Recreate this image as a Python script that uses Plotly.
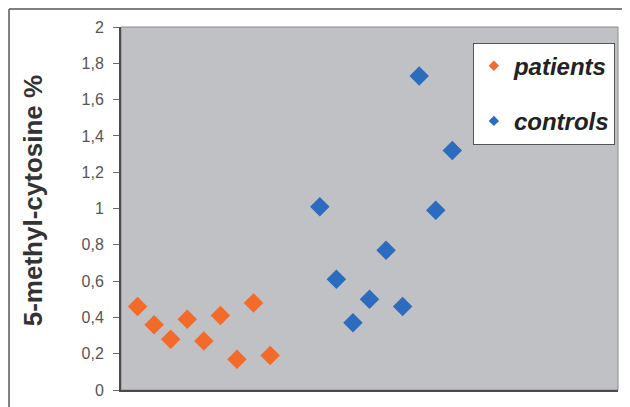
import plotly.graph_objects as go

patients_x = [1, 2, 3, 4, 5, 6, 7, 8, 9]
patients_y = [0.46, 0.36, 0.28, 0.39, 0.27, 0.41, 0.17, 0.48, 0.19]
controls_x = [12, 13, 14, 15, 16, 17, 18, 19, 20]
controls_y = [1.01, 0.61, 0.37, 0.50, 0.77, 0.46, 1.73, 0.99, 1.32]
y_ticks = [0, 0.2, 0.4, 0.6, 0.8, 1.0, 1.2, 1.4, 1.6, 1.8, 2.0]
y_tick_labels = ["0", "0,2", "0,4", "0,6", "0,8", "1", "1,2", "1,4", "1,6", "1,8", "2"]

FONT = "Liberation Sans, Arial, sans-serif"
ORANGE = "#F26B2A"
BLUE = "#2C6CBE"

fig = go.Figure()
fig.add_trace(go.Scatter(
    x=patients_x, y=patients_y, mode="markers", name="patients",
    showlegend=False,
    marker=dict(symbol="diamond", size=15, color=ORANGE, line=dict(width=0)),
))
fig.add_trace(go.Scatter(
    x=controls_x, y=controls_y, mode="markers", name="controls",
    showlegend=False,
    marker=dict(symbol="diamond", size=15, color=BLUE, line=dict(width=0)),
))
# legend entries (smaller legend symbols, as in the reference)
fig.add_trace(go.Scatter(
    x=[None], y=[None], mode="markers", name="patients", legendgroup="p",
    marker=dict(symbol="diamond", size=8, color=ORANGE, line=dict(width=0)),
))
fig.add_trace(go.Scatter(
    x=[None], y=[None], mode="markers", name="controls", legendgroup="c",
    marker=dict(symbol="diamond", size=8, color=BLUE, line=dict(width=0)),
))

fig.update_layout(
    width=630, height=407,
    margin=dict(l=113, r=20, t=19, b=25),
    paper_bgcolor="white",
    plot_bgcolor="#C0C1C5",
    font=dict(family=FONT),
    showlegend=True,
    legend=dict(
        x=0.708, y=0.957, xanchor="left", yanchor="top",
        bgcolor="white", bordercolor="#555555", borderwidth=1,
        font=dict(family=FONT, size=24, color="#222222", weight="bold", style="italic"),
        traceorder="grouped", tracegroupgap=21,
        itemwidth=30,
    ),
    xaxis=dict(
        range=[0, 30], showticklabels=False, ticks="", showgrid=False,
        zeroline=False, showline=True, linecolor="#4a4a4a", linewidth=2,
    ),
    yaxis=dict(
        range=[0, 2], tickvals=y_ticks, ticktext=y_tick_labels,
        ticks="outside", ticklen=6, tickcolor="#666666", tickwidth=1,
        ticklabelstandoff=6,
        tickfont=dict(family=FONT, size=16, color="#555555"),
        showgrid=False, zeroline=False, showline=True,
        linecolor="#4a4a4a", linewidth=2,
    ),
    shapes=[
        dict(type="rect", xref="paper", yref="paper", x0=0, x1=1, y0=0, y1=1,
             line=dict(color="#8c8c8c", width=1), layer="below"),
        dict(type="line", xref="paper", yref="paper", x0=-0.2253, x1=1.1,
             y0=1.0496, y1=1.0496, line=dict(color="#555555", width=1.5)),
        dict(type="line", xref="paper", yref="paper", x0=-0.2253, x1=-0.2253,
             y0=1.0496, y1=-0.1, line=dict(color="#555555", width=1.5)),
    ],
    annotations=[
        dict(text="<b>5-methyl-cytosine %</b>", xref="paper", yref="paper",
             x=-0.177, y=0.52, xanchor="center", yanchor="middle",
             textangle=-90, showarrow=False,
             font=dict(family=FONT, size=26, color="#333333")),
    ],
)

fig.write_html("out.html")
